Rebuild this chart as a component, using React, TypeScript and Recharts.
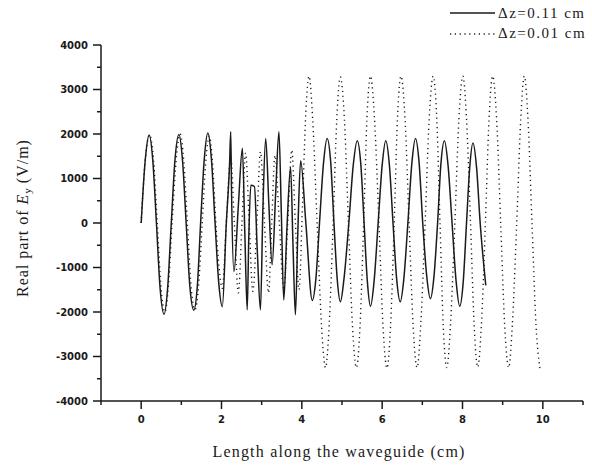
import React from 'react';
import { LineChart, Line, XAxis, YAxis } from 'recharts';

// Δz = 0.11 cm (solid)
const solidX = [
  0, 0.10, 0.20, 0.29, 0.38, 0.47, 0.57, 0.66, 0.75, 0.84, 0.94, 1.03, 1.12, 1.21, 1.31, 1.40,
  1.48, 1.57, 1.66, 1.75, 1.84, 1.93, 2.02,
  2.12, 2.20, 2.23, 2.25, 2.31, 2.42, 2.52, 2.58, 2.64, 2.68, 2.73, 2.82, 2.89, 2.97, 3.03, 3.10,
  3.18, 3.26, 3.35, 3.43, 3.49, 3.55, 3.63, 3.72, 3.78, 3.84, 3.90, 3.97, 4.10, 4.26,
  4.35, 4.44, 4.54, 4.63, 4.72, 4.80, 4.88, 4.96, 5.05, 5.17, 5.28, 5.38, 5.47, 5.55, 5.63, 5.71,
  5.80, 5.90, 6.00, 6.09, 6.18, 6.27, 6.36, 6.45, 6.54, 6.64, 6.74, 6.83, 6.92, 7.01, 7.11, 7.20,
  7.29, 7.38, 7.46, 7.55, 7.64, 7.74, 7.84, 7.93, 8.02, 8.10, 8.18, 8.26, 8.35, 8.44, 8.58,
];
const solidY = [
  0, 1400, 1980, 1400, 0, -1450, -2050, -1450, 0, 1400, 1990, 1400, 0, -1400, -1960, -1400,
  0, 1420, 2020, 1420, 0, -1330, -1880,
  0, 1300, 2050, 700, -1090, 400, 1680, -200, -1950, -300, 850, 820, -600, -1950, 300, 1900,
  400, -940, 700, 2050, 200, -1730, -100, 1260, -500, -2060, -200, 1400, 0, -1740,
  -1250, 0, 1350, 1900, 1350, 0, -1250, -1770, -1250, 0, 1300, 1850, 1300, 0, -1300, -1870,
  -1300, 0, 1300, 1850, 1300, 0, -1250, -1770, -1250, 0, 1350, 1900, 1350, 0, -1200, -1700,
  -1200, 0, 1300, 1850, 1300, 0, -1300, -1870, -1300, 0, 1250, 1800, 1250, 0, -1400,
];

// Δz = 0.01 cm (dotted)
const dottedX = [
  0, 0.10, 0.21, 0.31, 0.40, 0.49, 0.59, 0.68, 0.77, 0.87, 0.97, 1.06, 1.15, 1.24, 1.34, 1.43,
  1.52, 1.61, 1.70, 1.78, 1.86, 1.94, 2.02,
  2.12, 2.23, 2.32, 2.42, 2.51, 2.60, 2.69, 2.78, 2.88, 2.97, 3.07, 3.17, 3.25, 3.33, 3.44, 3.55,
  3.65, 3.75, 3.84, 3.93, 4.02, 4.10, 4.18, 4.27, 4.38, 4.49, 4.59,
  4.68, 4.78, 4.87, 4.96, 5.06, 5.16, 5.26, 5.36, 5.45, 5.54, 5.62, 5.71, 5.81, 5.92, 6.02, 6.12,
  6.21, 6.30, 6.38, 6.47, 6.57, 6.67, 6.77, 6.87, 6.96, 7.07, 7.17, 7.27, 7.36, 7.44, 7.52, 7.61,
  7.70, 7.81, 7.91, 8.01, 8.10, 8.20, 8.29, 8.38, 8.47, 8.57, 8.66, 8.75, 8.85, 8.95, 9.05, 9.15,
  9.24, 9.35, 9.45, 9.54, 9.63, 9.73, 9.83, 9.93,
];
const dottedY = [
  0, 1400, 1980, 1400, 0, -1400, -2000, -1400, 0, 1400, 2000, 1400, 0, -1400, -1950, -1400,
  0, 1400, 1950, 1300, 0, -1000, -1470,
  0, 1490, 0, -1570, 0, 1570, 0, -1540, 0, 1600, 0, -1570, 0, 1520, 0, -1500,
  0, 1640, 0, -1500, 500, 2500, 3300, 2330, 0, -2300, -3250,
  -2300, 0, 2330, 3280, 2330, 0, -2300, -3250, -2300, 0, 2330, 3300, 2330, 0, -2300, -3260,
  -2300, 0, 2330, 3300, 2330, 0, -2300, -3250, -2300, 0, 2330, 3300, 2330, 0, -2300, -3250,
  -2300, 0, 2330, 3300, 2330, 0, -2300, -3240, -2300, 0, 2330, 3300, 2330, 0, -2300, -3250,
  -2300, 0, 2330, 3300, 2330, 0, -2300, -3280,
];

const xTicks = [-1, 0, 1, 2, 3, 4, 5, 6, 7, 8, 9, 10, 11];
const yTicks = [-4000, -3500, -3000, -2500, -2000, -1500, -1000, -500, 0, 500, 1000, 1500, 2000, 2500, 3000, 3500, 4000];
const legendLabels = ['\u0394z=0.11 cm', '\u0394z=0.01 cm'];
const legendDashes = ['none', '1.2 3.6'];

const solidData = solidX.map((x, i) => ({ x, y: solidY[i] }));
const dottedData = dottedX.map((x, i) => ({ x, y: dottedY[i] }));

const INK = '#1a1a1a';
const TICK_FONT = { fontFamily: 'DejaVu Sans', fontWeight: 'bold' as const, fontSize: 10, fill: INK };

const XTick = (props: any) => {
  const { x, y, payload } = props;
  const v = payload.value as number;
  const major = v % 2 === 0;
  return (
    <g>
      <line x1={x} y1={y} x2={x} y2={y + (major ? 8 : 4)} stroke={INK} strokeWidth={1.5} />
      {major && (
        <text x={x} y={y + 22} textAnchor="middle" {...TICK_FONT}>
          {v}
        </text>
      )}
    </g>
  );
};

const YTick = (props: any) => {
  const { x, y, payload } = props;
  const v = payload.value as number;
  const major = v % 1000 === 0;
  return (
    <g>
      <line x1={x} y1={y} x2={x - (major ? 8 : 4)} y2={y} stroke={INK} strokeWidth={1.5} />
      {major && (
        <text x={x - 13} y={y + 3.6} textAnchor="end" {...TICK_FONT}>
          {v}
        </text>
      )}
    </g>
  );
};

const serif = '"Liberation Serif", "Times New Roman", serif';

export default function App() {
  return (
    <div style={{ position: 'absolute', left: 0, top: 0, width: 592, height: 466, background: '#fff' }}>
      <LineChart width={592} height={466} margin={{ top: 45, right: 9, left: 0, bottom: 35 }}>
        <XAxis
          type="number"
          dataKey="x"
          domain={[-1, 11]}
          ticks={xTicks}
          interval={0}
          allowDataOverflow
          height={30}
          tickSize={0}
          tickMargin={0}
          tickLine={false}
          axisLine={{ stroke: INK, strokeWidth: 1.5 }}
          tick={<XTick />}
        />
        <YAxis
          type="number"
          dataKey="y"
          domain={[-4000, 4000]}
          ticks={yTicks}
          interval={0}
          allowDataOverflow
          width={101}
          tickSize={0}
          tickMargin={0}
          tickLine={false}
          axisLine={{ stroke: INK, strokeWidth: 1.5 }}
          tick={<YTick />}
        />
        <Line
          data={dottedData}
          dataKey="y"
          type="monotone"
          stroke={INK}
          strokeWidth={1.4}
          strokeDasharray="1.2 3.6"
          dot={false}
          activeDot={false}
          isAnimationActive={false}
        />
        <Line
          data={solidData}
          dataKey="y"
          type="monotone"
          stroke={INK}
          strokeWidth={1.5}
          dot={false}
          activeDot={false}
          isAnimationActive={false}
        />
      </LineChart>

      {/* legend */}
      {legendLabels.map((label, i) => (
        <div
          key={label}
          style={{
            position: 'absolute',
            left: 448,
            top: 3 + i * 20.5,
            height: 20,
            display: 'flex',
            alignItems: 'center',
            whiteSpace: 'nowrap',
          }}
        >
          <svg width={48} height={20} style={{ display: 'block' }}>
            <line
              x1={2}
              y1={10}
              x2={47}
              y2={10}
              stroke={INK}
              strokeWidth={1.3}
              strokeDasharray={legendDashes[i] === 'none' ? undefined : legendDashes[i]}
            />
          </svg>
          <span style={{ fontFamily: serif, fontSize: 15, letterSpacing: 1.5, color: INK, marginLeft: 2 }}>
            {label}
          </span>
        </div>
      ))}

      {/* x axis title */}
      <div
        style={{
          position: 'absolute',
          left: 189,
          width: 300,
          top: 442,
          textAlign: 'center',
          fontFamily: serif,
          fontSize: 16,
          letterSpacing: 1.2,
          color: INK,
          whiteSpace: 'nowrap',
          lineHeight: '20px',
        }}
      >
        Length along the waveguide (cm)
      </div>

      {/* y axis title */}
      <div
        style={{
          position: 'absolute',
          left: 23 - 120,
          top: 218 - 10,
          width: 240,
          height: 20,
          lineHeight: '20px',
          textAlign: 'center',
          transform: 'rotate(-90deg)',
          transformOrigin: '50% 50%',
          fontFamily: serif,
          fontSize: 16,
          letterSpacing: 1,
          color: INK,
          whiteSpace: 'nowrap',
        }}
      >
        Real part of <i>E</i>
        <sub style={{ fontSize: 11, verticalAlign: '-3px', letterSpacing: 0 }}>y</sub> (V/m)
      </div>
    </div>
  );
}
